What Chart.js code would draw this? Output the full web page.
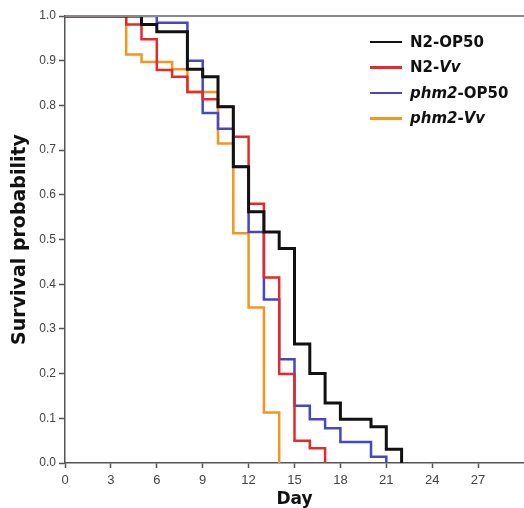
<!DOCTYPE html>
<html>
<head>
<meta charset="utf-8">
<script src="https://cdn.jsdelivr.net/npm/chart.js@4"></script>
<style>
  body { margin: 0; background: #fff; }
  #wrap { position: relative; width: 524px; height: 508px; }
  #legend { position: absolute; left: 370px; top: 29px; font: bold 15px "DejaVu Sans", sans-serif; color: #111; }
  #legend .row { height: 25.5px; display: flex; align-items: center; }
  #legend .swatch { width: 32px; height: 2.5px; margin-right: 8px; }
</style>
</head>
<body>
<div id="wrap">
  <canvas id="km-chart" width="524" height="508"></canvas>
  <div id="legend"></div>
</div>
<script>
// survival curves (day, fraction alive)
var n2op50Days = [0, 5, 6, 8, 9, 10, 11, 12, 13, 14, 15, 16, 17, 18, 20, 21, 22];
var n2op50Surv = [1, 0.981, 0.965, 0.881, 0.864, 0.797, 0.663, 0.562, 0.517, 0.480, 0.266, 0.200, 0.134, 0.098, 0.081, 0.031, 0];

var n2vvDays = [0, 4, 5, 6, 7, 8, 9, 10, 11, 12, 13, 14, 15, 16, 17];
var n2vvSurv = [1, 0.981, 0.948, 0.879, 0.864, 0.830, 0.814, 0.797, 0.730, 0.580, 0.415, 0.199, 0.050, 0.033, 0];

var phm2op50Days = [0, 6, 8, 9, 10, 11, 12, 13, 14, 15, 16, 17, 18, 20, 21];
var phm2op50Surv = [1, 0.985, 0.900, 0.783, 0.748, 0.663, 0.517, 0.366, 0.232, 0.128, 0.098, 0.078, 0.047, 0.014, 0];

var phm2vvDays = [0, 4, 5, 7, 8, 10, 11, 12, 13, 14];
var phm2vvSurv = [1, 0.914, 0.897, 0.881, 0.830, 0.715, 0.514, 0.348, 0.113, 0];

var seriesLabels = ['N2-OP50', 'N2-Vv', 'phm2-OP50', 'phm2-Vv'];
var legendHtml = ['N2-OP50', 'N2-<i>Vv</i>', '<i>phm2</i>-OP50', '<i>phm2</i>-<i>Vv</i>'];
var seriesColors = ['#111111', '#e8282b', '#4646c8', '#f7941e'];
var seriesWidths = [3, 2.5, 2.5, 2.5];

function toPoints(days, surv) {
    return days.map(function(d, i) { return { x: d, y: surv[i] }; });
}

var allData = [
    toPoints(n2op50Days, n2op50Surv),
    toPoints(n2vvDays, n2vvSurv),
    toPoints(phm2op50Days, phm2op50Surv),
    toPoints(phm2vvDays, phm2vvSurv)
];

var datasets = allData.map(function(pts, i) {
    return {
        label: seriesLabels[i],
        data: pts,
        borderColor: seriesColors[i],
        borderWidth: seriesWidths[i],
        stepped: true,
        pointRadius: 0,
        fill: false
    };
});

// grey frame line along the top of the plot
var topFrame = {
    id: 'topFrame',
    afterDatasetsDraw: function(chart) {
        var a = chart.chartArea, c = chart.ctx;
        c.save();
        c.strokeStyle = '#8a8a8a';
        c.lineWidth = 2;
        c.beginPath();
        c.moveTo(a.left, a.top);
        c.lineTo(a.right, a.top);
        c.stroke();
        c.restore();
    }
};

var ctx = document.getElementById('km-chart');
var myChart = new Chart(ctx, {
    type: 'line',
    data: { datasets: datasets },
    plugins: [topFrame],
    options: {
        responsive: false,
        animation: false,
        layout: { padding: { top: 16, right: 0, left: 0, bottom: 0 } },
        plugins: {
            legend: { display: false },
            tooltip: { enabled: false }
        },
        scales: {
            x: {
                type: 'linear',
                min: 0,
                max: 30,
                afterBuildTicks: function(scale) {
                    scale.ticks = scale.ticks.filter(function(t) { return t.value < 30; });
                },
                afterFit: function(scale) { scale.height = 45; },
                ticks: {
                    stepSize: 3,
                    padding: 5,
                    color: '#444',
                    font: { family: 'Liberation Sans', size: 13 }
                },
                grid: { drawOnChartArea: false, tickLength: 5, color: '#555', tickWidth: 1.5 },
                border: { color: '#555', width: 1.5 },
                title: {
                    display: true,
                    text: 'Day',
                    color: '#111',
                    padding: { top: 0, bottom: -2 },
                    font: { family: 'DejaVu Sans', size: 17, weight: 'bold' }
                }
            },
            y: {
                min: 0,
                max: 1,
                afterFit: function(scale) { scale.width = 65; },
                ticks: {
                    stepSize: 0.1,
                    padding: 3,
                    color: '#444',
                    font: { family: 'Liberation Sans', size: 12 },
                    callback: function(v) { return v.toFixed(1); }
                },
                grid: { drawOnChartArea: false, tickLength: 6, color: '#555', tickWidth: 1.5 },
                border: { color: '#555', width: 1.5 },
                title: {
                    display: true,
                    text: 'Survival probability',
                    color: '#111',
                    padding: { top: 9, bottom: 0 },
                    font: { family: 'DejaVu Sans', size: 19, weight: 'bold' }
                }
            }
        }
    }
});

var legend = document.getElementById('legend');
legendHtml.forEach(function(txt, i) {
    var row = document.createElement('div');
    row.className = 'row';
    row.innerHTML = '<span class="swatch" style="background:' + seriesColors[i] + '"></span><span>' + txt + '</span>';
    legend.appendChild(row);
});
</script>
</body>
</html>
